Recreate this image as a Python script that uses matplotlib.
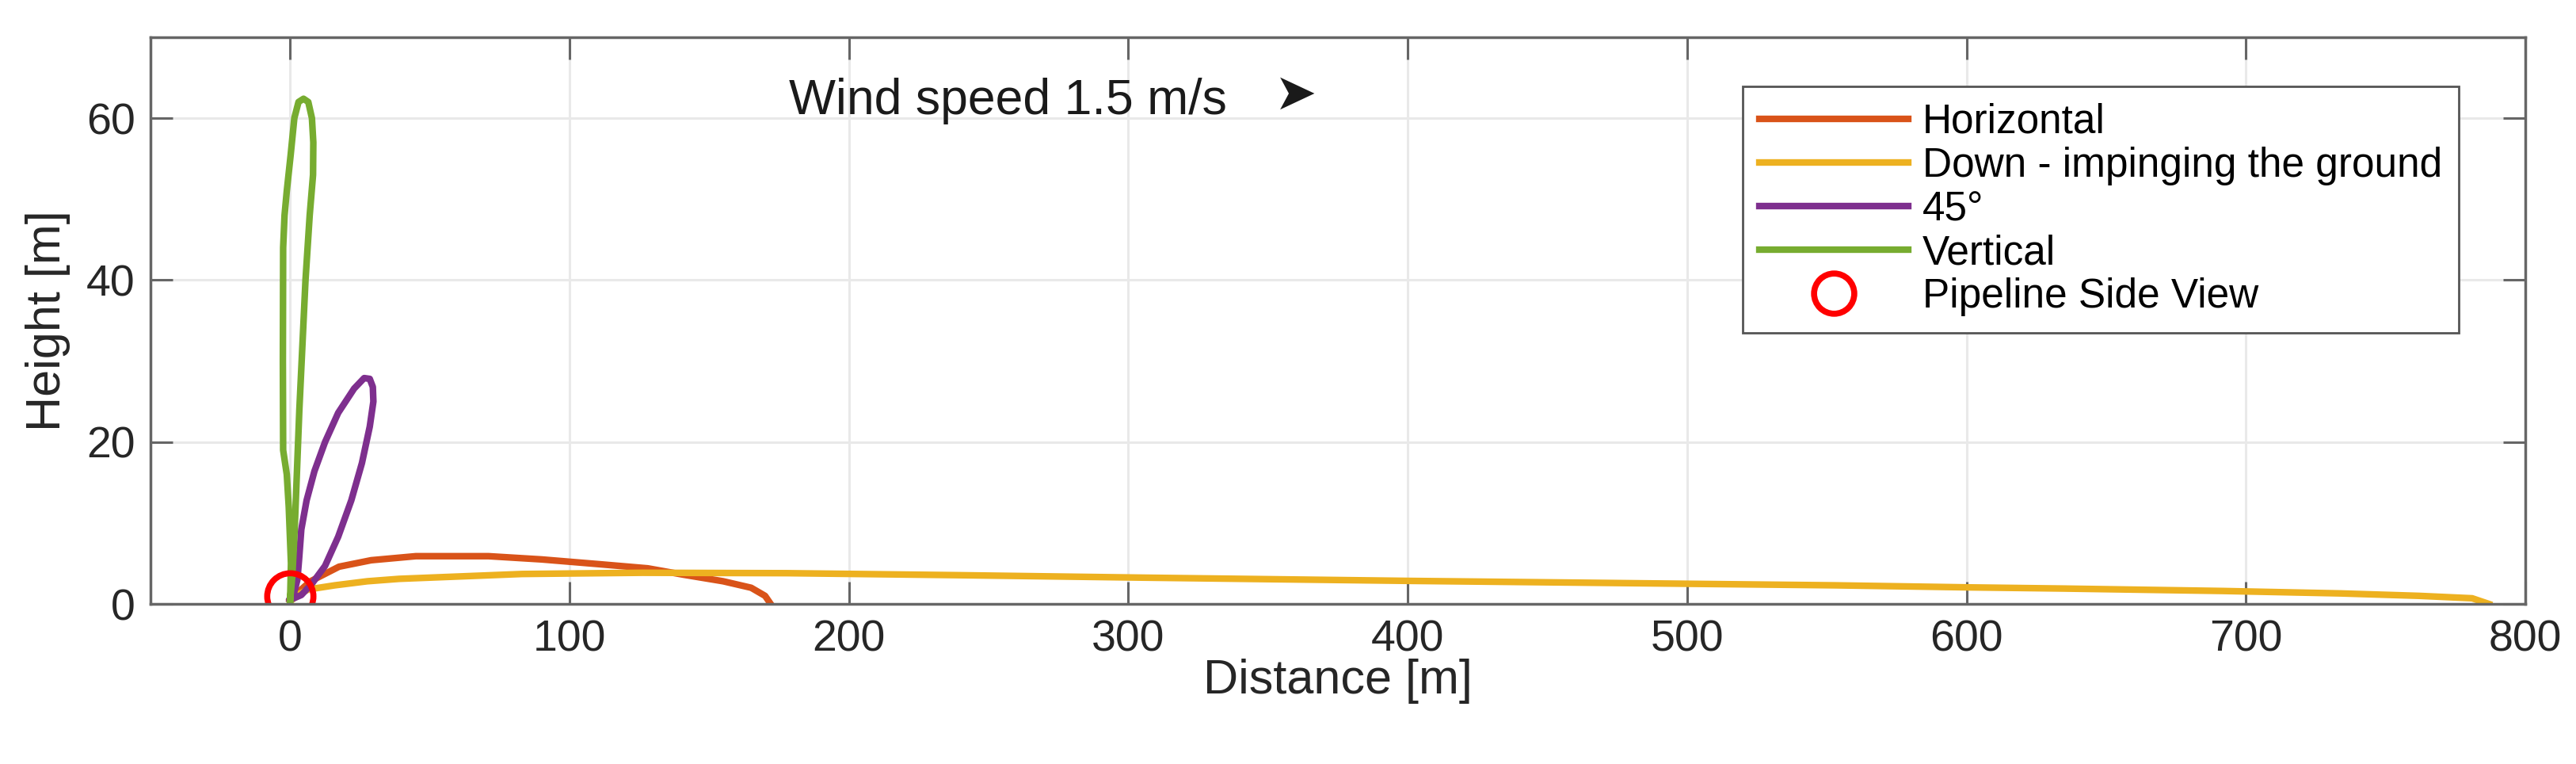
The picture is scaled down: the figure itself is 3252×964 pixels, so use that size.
import matplotlib
matplotlib.use("Agg")
from matplotlib import pyplot as plt

plt.rcParams['font.family'] = ['Liberation Sans', 'DejaVu Sans']

# plume outlines (distance m, height m)
horiz_x = [0, 3, 7.3, 17.5, 29, 45, 71, 90, 111, 128, 141, 155, 165, 170, 172]
horiz_y = [0.5, 1.5, 2.8, 4.6, 5.4, 5.9, 5.9, 5.5, 4.9, 4.4, 3.6, 2.8, 2.0, 1.0, 0]

down_x = [0, 3, 6.6, 16, 27.6, 39, 61, 83, 126, 178, 240, 305, 400, 470, 553,
          600, 635, 692, 734, 762, 781, 787]
down_y = [0.3, 1.2, 1.8, 2.3, 2.8, 3.1, 3.4, 3.7, 3.85, 3.8, 3.55, 3.25, 2.85,
          2.6, 2.3, 2.05, 1.9, 1.6, 1.3, 1.0, 0.7, 0]

deg45_x = [0, 1.5, 2.6, 3.2, 4.0, 5.9, 8.7, 12.5, 17.2, 22.9, 26.5, 28.5, 29.6,
           29.8, 28.5, 25.7, 21.9, 17.2, 12.5, 7.8, 4.0, 0]
deg45_y = [0.5, 1.5, 3.0, 5.5, 9.2, 12.8, 16.4, 20.0, 23.6, 26.6, 27.9, 27.8,
           26.8, 25.0, 21.9, 17.4, 12.8, 8.3, 4.7, 2.5, 1.1, 0.5]

vert_x = [0, 0.3, -0.5, -1.2, -2.5, -2.6, -2.5, -2.0, -1.2, 0.2, 1.5, 3, 4.8,
          6.5, 7.8, 8.3, 8.2, 7.0, 5.5, 4.4, 3.3, 2.4, 1.6, 0.8, 0]
vert_y = [0.5, 5, 12, 16, 19, 30, 44, 48, 51, 55.5, 60, 62, 62.4,
          62, 60, 57, 53, 48, 40, 32, 24, 16, 9, 3.5, 0.5]

pipe_x = [0]
pipe_y = [1]

xticks = [0, 100, 200, 300, 400, 500, 600, 700, 800]
yticks = [0, 20, 40, 60]

fig = plt.figure(figsize=(32.52, 9.64), dpi=100)
ax = fig.add_axes([0.0584, 0.2095, 0.9219, 0.7418])

lw = 6
ax.plot(horiz_x, horiz_y, color="#D95319", lw=lw, label="Horizontal")
ax.plot(down_x, down_y, color="#EDB120", lw=lw, label="Down - impinging the ground")
ax.plot(deg45_x, deg45_y, color="#7E2F8E", lw=lw, label="45°")
ax.plot(vert_x, vert_y, color="#77AC30", lw=lw, label="Vertical")
ax.plot(pipe_x, pipe_y, "o", mfc="none", mec="#FF0000", ms=42, mew=5.5,
        ls="none", label="Pipeline Side View")

ax.set_xlim(-50, 800)
ax.set_ylim(0, 70)
ax.set_xticks(xticks)
ax.set_yticks(yticks)
ax.grid(True, color="#e9e9e9", lw=2.2)
ax.set_axisbelow(True)
ax.tick_params(direction="in", length=20, width=2.2, color="#666666",
               labelsize=40, labelcolor="#262626", pad=14,
               top=True, right=True)
for s in ax.spines.values():
    s.set_color("#666666")
    s.set_linewidth(2.5)

ax.set_xlabel("Distance [m]", fontsize=44, color="#262626", labelpad=-2)
ax.set_ylabel("Height [m]", fontsize=44, color="#262626", labelpad=14)

ax.text(178.5, 60.5, "Wind speed 1.5 m/s", fontsize=45, color="#1a1a1a",
        va="baseline", ha="left")
ax.text(360, 62.9, "➤", fontsize=46, color="#1a1a1a", va="center", ha="center",
        family=["DejaVu Sans"])

leg = ax.legend(loc="upper right", bbox_to_anchor=(0.972, 0.913),
                borderaxespad=0, fontsize=37, handlelength=3.67,
                handletextpad=0.35, labelspacing=0.12, borderpad=0.4,
                markerscale=0.87, fancybox=False, framealpha=1)
leg.get_frame().set_edgecolor("#555555")
leg.get_frame().set_linewidth(2)

fig.savefig("out.png", dpi=100)
